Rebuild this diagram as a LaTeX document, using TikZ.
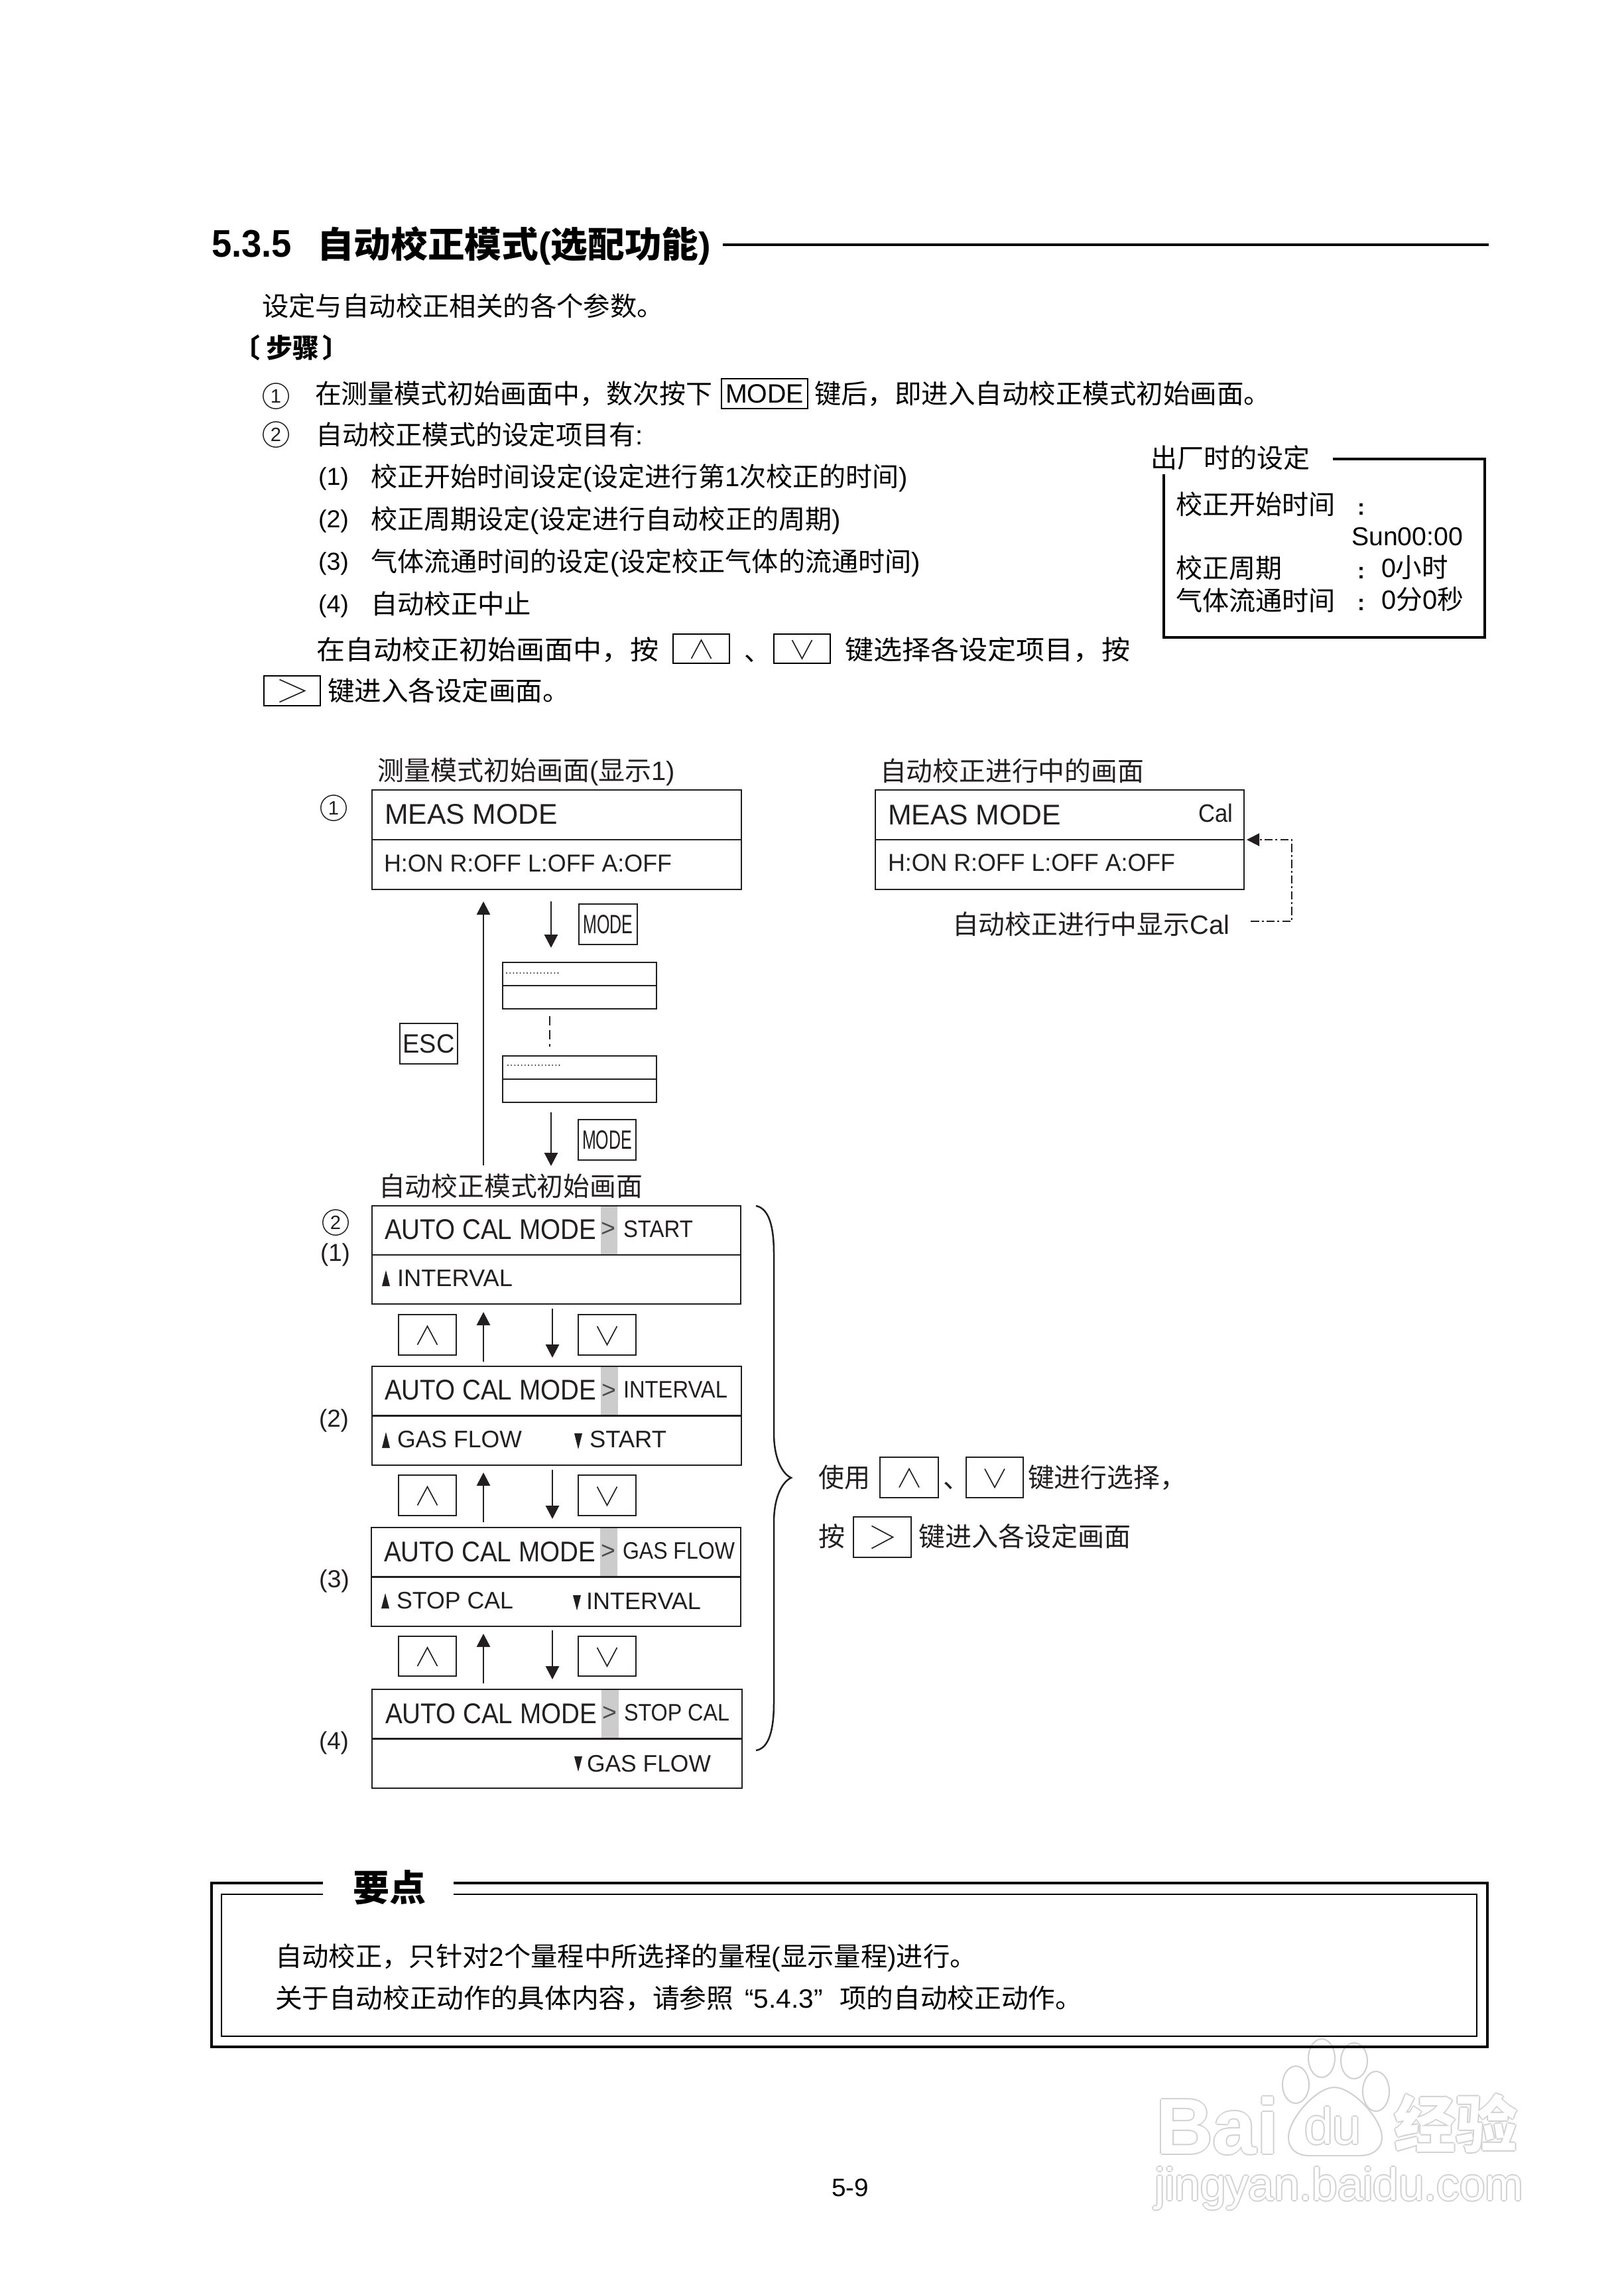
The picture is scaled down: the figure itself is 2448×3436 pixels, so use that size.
\documentclass[tikz,border=0pt]{standalone}
\usepackage{fontspec}
\usepackage{graphicx}
\setmainfont{Liberation Sans}
\newfontfamily\cjk{Noto Sans CJK SC}
\usetikzlibrary{arrows.meta}
\definecolor{ink}{HTML}{231F20}
\definecolor{band}{HTML}{CCCCCC}
\definecolor{wmg}{gray}{0.82}
\newcommand\cn[1]{{\cjk #1}}
\newdimen\tmpw
\newcommand\fpx[1]{\pgfmathsetmacro\fsz{#1*0.24}\fontsize{\fsz pt}{\fsz pt}\selectfont}
\newcommand\FT[3]{\fpx{#1}\tmpw=#2pt\relax\tmpw=0.24\tmpw\relax\resizebox{\tmpw}{\height}{#3}}
\newcommand\TL[7][txt]{\node[#1] (#2) at (#3,#4) {\FT{#5}{#6}{#7}};}
\newcommand\BX[6][lcd]{%
  \pgfmathsetmacro\bw{(#5-#3)*0.24}\pgfmathsetmacro\bh{(#6-#4)*0.24}%
  \pgfmathsetmacro\bx{(#3+#5)/2}\pgfmathsetmacro\by{(#4+#6)/2}%
  \node[#1,minimum width=\bw pt,minimum height=\bh pt] (#2) at (\bx,\by) }
% outlined watermark text: four pale copies and a white one on top
\newcommand\WMT[7][]{%
  \node[wmt,#1,text=wmg] (#2w) at (#3-2,#4) {\fpx{#5}#6};
  \node[wmt,#1,text=wmg] (#2e) at (#3+2,#4) {\fpx{#5}#6};
  \node[wmt,#1,text=wmg] (#2n) at (#3,#4-2) {\fpx{#5}#6};
  \node[wmt,#1,text=wmg] (#2s) at (#3,#4+2) {\fpx{#5}#6};
  \node[wmt,#1,text=white] (#2) at (#3,#4) {\fpx{#5}#6};}
\tikzset{
  x=0.24pt,y=-0.24pt,
  txt/.style={anchor=base west,inner sep=0pt,outer sep=0pt,text=black},
  wmt/.style={anchor=base west,inner sep=0pt,outer sep=0pt},
  dtxt/.style={txt,text=ink},
  lcd/.style={draw=ink,line width=.55pt,inner sep=0pt,outer sep=0pt},
  key/.style={draw=ink,line width=.65pt,inner sep=0pt,outer sep=0pt,text=ink},
  keyk/.style={draw=black,line width=.55pt,inner sep=0pt,outer sep=0pt,text=black},
  cnum/.style={circle,draw=ink,line width=.35pt,inner sep=0pt,outer sep=0pt,minimum size=9.2pt,text=ink,font=\fontsize{7pt}{7pt}\selectfont},
  arr/.style={draw=ink,line width=.7pt,-{Triangle[length=4.8pt,width=4.8pt]}},
  chev/.style={draw=ink,line width=.4pt},
  sep/.style={draw=ink,line width=.5pt},
  gt/.style={anchor=center,inner sep=0pt,outer sep=0pt,text=ink!80,font=\fontsize{9pt}{9pt}\selectfont},
  wmline/.style={draw=wmg,line width=.5pt},
}
\newcommand\UpC[1]{\draw[chev] (#1.center) ++(-15,15) -- ++(15,-28) -- ++(15,28);}
\newcommand\DnC[1]{\draw[chev] (#1.center) ++(-15,-13) -- ++(15,28) -- ++(15,-28);}
\newcommand\GtC[1]{\draw[chev] (#1.center) ++(-16,-17) -- ++(32,17) -- ++(-32,17);}
\begin{document}
\begin{tikzpicture}
\useasboundingbox[fill=white] (0,0) rectangle (2448,3436);
% watermark paw (under the frame)
\draw[wmline] (1993,3103) ellipse [x radius=20,y radius=29];
\draw[wmline] (2042,3107) ellipse [x radius=20,y radius=27];
\draw[wmline] (1954,3143) ellipse [x radius=20,y radius=28];
\draw[wmline] (2075,3153) ellipse [x radius=20,y radius=30];
\draw[wmline] (2012,3147) .. controls (2040,3147) and (2084,3195) .. (2084,3222)
  .. controls (2084,3240) and (2070,3250) .. (2050,3250) -- (1975,3250)
  .. controls (1955,3250) and (1943,3240) .. (1943,3222)
  .. controls (1943,3195) and (1985,3147) .. (2012,3147) -- cycle;
% heading
\TL[txt,font=\bfseries]{h1}{319}{387}{58}{121}{5.3.5}
\TL[txt,font=\bfseries]{h2}{478}{388}{54}{594}{\cn{自动校正模式}(\cn{选配功能})}
\coordinate (hrA) at (1090,369); \coordinate (hrB) at (2245,369);
\draw[black,line width=.85pt] (hrA) -- (hrB);
% intro
\TL{t1}{395}{476}{40}{606}{\cn{设定与自动校正相关的各个参数。}}
\TL[txt,font=\bfseries]{t2}{352}{539}{40}{175}{\cn{〔}\kern2.4pt\cn{步骤}\kern1.2pt\cn{〕}}
\node[cnum] (n1) at (416,597) {1};
\TL{t3}{475}{608}{40}{599}{\cn{在测量模式初始画面中，数次按下}}
\BX[keyk]{kmode}{1088}{571}{1218}{616} {\FT{40}{118}{MODE}};
\TL{t4}{1228}{608}{40}{688}{\cn{键后，即进入自动校正模式初始画面。}}
\node[cnum] (n2) at (416,655) {2};
\TL{t5}{476}{670}{40}{494}{\cn{自动校正模式的设定项目有}:}
\TL{l1}{480}{731}{37}{46}{(1)}
\TL{l1t}{559}{733}{40}{810}{\cn{校正开始时间设定}(\cn{设定进行第}1\cn{次校正的时间})}
\TL{l2}{480}{795}{37}{46}{(2)}
\TL{l2t}{559}{797}{40}{709}{\cn{校正周期设定}(\cn{设定进行自动校正的周期})}
\TL{l3}{480}{859}{37}{46}{(3)}
\TL{l3t}{559}{861}{40}{829}{\cn{气体流通时间的设定}(\cn{设定校正气体的流通时间})}
\TL{l4}{480}{923}{37}{46}{(4)}
\TL{l4t}{559}{925}{40}{242}{\cn{自动校正中止}}
\TL{t6}{477}{994}{40}{517}{\cn{在自动校正初始画面中，按}}
\BX[keyk]{kup0}{1015}{956}{1100}{1000} {};
\UpC{kup0}
\TL{t7}{1122}{996}{40}{40}{\cn{、}}
\BX[keyk]{kdn0}{1167}{956}{1252}{1000} {};
\DnC{kdn0}
\TL{t8}{1274}{994}{40}{431}{\cn{键选择各设定项目，按}}
\BX[keyk]{kgt0}{398}{1019}{483}{1064} {};
\draw[chev] (kgt0.center) ++(-19,-17) -- ++(38,17) -- ++(-38,17);
\TL{t9}{494}{1056}{40}{365}{\cn{键进入各设定画面。}}
% factory settings panel
\TL{f0}{1735}{705}{40}{240}{\cn{出厂时的设定}}
\coordinate (fa) at (2010,692); \coordinate (fb) at (2239,692);
\coordinate (fc) at (2239,961); \coordinate (fd) at (1755,961); \coordinate (fe) at (1755,715);
\draw[black,line width=.8pt] (fa) -- (fb) -- (fc) -- (fd) -- (fe);
\TL{f1}{1773}{775}{40}{241}{\cn{校正开始时间}}
\TL[txt,font=\bfseries]{f1c}{2047}{776}{34}{11}{:}
\TL{f1v}{2038}{822}{39}{168}{Sun00:00}
\TL{f2}{1773}{871}{40}{160}{\cn{校正周期}}
\TL[txt,font=\bfseries]{f2c}{2047}{872}{34}{11}{:}
\TL{f2v}{2083}{870}{40}{101}{0\cn{小时}}
\TL{f3}{1773}{920}{40}{241}{\cn{气体流通时间}}
\TL[txt,font=\bfseries]{f3c}{2047}{920}{34}{11}{:}
\TL{f3v}{2083}{918}{40}{124}{0\cn{分}0\cn{秒}}
% measure screen
\TL[dtxt]{m0}{569}{1176}{40}{449}{\cn{测量模式初始画面}(\cn{显示}1)}
\node[cnum] (c1) at (503,1218) {1};
\BX{meas}{561}{1191}{1118}{1341} {};
\draw[sep] (meas.west) -- (meas.east);
\TL[dtxt]{measA}{580}{1242}{43}{261}{MEAS MODE}
\TL[dtxt]{measB}{579}{1314}{37}{434}{H:ON R:OFF L:OFF A:OFF}
% running screen
\TL[dtxt]{r0}{1327}{1177}{40}{398}{\cn{自动校正进行中的画面}}
\BX{run}{1320}{1191}{1876}{1341} {};
\draw[sep] (run.west) -- (run.east);
\TL[dtxt]{runA}{1339}{1243}{43}{261}{MEAS MODE}
\TL[dtxt]{runC}{1807}{1239}{38}{52}{Cal}
\TL[dtxt]{runB}{1339}{1313}{37}{433}{H:ON R:OFF L:OFF A:OFF}
\TL[dtxt]{runL}{1436}{1408}{40}{418}{\cn{自动校正进行中显示}Cal}
\coordinate (ca) at (1886,1389); \coordinate (cb) at (1948,1389); \coordinate (cc) at (1948,1266); \coordinate (cd) at (1880,1266);
\draw[draw=ink,line width=.5pt,dash pattern=on 3pt off 1pt on .7pt off 1pt,-{Triangle[length=4.6pt,width=4.6pt]}] (ca) -- (cb) -- (cc) -- (cd);
% transition from measure to auto cal
\coordinate (esc1) at (729,1757); \coordinate (esc2) at (729,1359);
\draw[arr] (esc1) -- (esc2);
\BX[key]{kesc}{603}{1543}{690}{1604} {\FT{40}{78}{ESC}};
\coordinate (md1a) at (831,1359); \coordinate (md1b) at (831,1429);
\draw[arr] (md1a) -- (md1b);
\BX[key]{kmd1}{873}{1363}{961}{1424} {\FT{40}{75}{MODE}};
\BX{sm1}{758}{1451}{990}{1521} {};
\draw[sep] (sm1.west) -- (sm1.east);
\coordinate (d1a) at (764,1467); \coordinate (d1b) at (842,1467);
\draw[ink,line width=.5pt,line cap=round,dash pattern=on 0pt off 1.24pt] (d1a) -- (d1b);
\coordinate (dv1) at (829,1532); \coordinate (dv2) at (829,1578);
\draw[ink,line width=.6pt,dash pattern=on 3.4pt off 1.6pt] (dv1) -- (dv2);
\BX{sm2}{758}{1592}{990}{1662} {};
\draw[sep] (sm2.west) -- (sm2.east);
\coordinate (d2a) at (766,1606); \coordinate (d2b) at (844,1606);
\draw[ink,line width=.5pt,line cap=round,dash pattern=on 0pt off 1.24pt] (d2a) -- (d2b);
\coordinate (md2a) at (831,1677); \coordinate (md2b) at (831,1758);
\draw[arr] (md2a) -- (md2b);
\BX[key]{kmd2}{872}{1688}{959}{1749} {\FT{40}{75}{MODE}};
\TL[dtxt]{a0}{571}{1803}{40}{398}{\cn{自动校正模式初始画面}}
% auto cal screens
\node[cnum] (c2) at (506,1843) {2};
\TL[dtxt]{a1n}{483}{1901}{37}{45}{(1)}
\TL[dtxt]{a2n}{481}{2151}{37}{45}{(2)}
\TL[dtxt]{a3n}{481}{2393}{37}{46}{(3)}
\TL[dtxt]{a4n}{481}{2637}{37}{45}{(4)}
% screen 1
\fill[band] (906,1818) rectangle (931,1892);
\BX{s1}{561}{1818}{1117}{1966} {};
\draw[sep] (s1.west) -- (s1.east);
\TL[dtxt]{s1a}{580}{1868}{43}{319}{AUTO CAL MODE}
\node[gt] (s1g) at (917,1854) {>};
\TL[dtxt]{s1b}{940}{1865}{36}{105}{START}
\fill[ink] (576,1939) -- (582,1915) -- (588,1939) -- cycle;
\TL[dtxt]{s1c}{599}{1939}{36}{174}{INTERVAL}
% screen 2
\fill[band] (906,2060) rectangle (932,2134);
\BX{s2}{561}{2060}{1118}{2209} {};
\draw[sep] (s2.west) -- (s2.east);
\TL[dtxt]{s2a}{580}{2110}{43}{319}{AUTO CAL MODE}
\node[gt] (s2g) at (918,2098) {>};
\TL[dtxt]{s2b}{940}{2107}{36}{157}{INTERVAL}
\fill[ink] (576,2183) -- (582,2159) -- (588,2183) -- cycle;
\TL[dtxt]{s2c}{599}{2182}{36}{188}{GAS FLOW}
\fill[ink] (866,2161) -- (872,2185) -- (878,2161) -- cycle;
\TL[dtxt]{s2d}{889}{2182}{36}{116}{START}
% screen 3
\fill[band] (905,2303) rectangle (931,2378);
\BX{s3}{560}{2303}{1117}{2452} {};
\draw[sep] (s3.west) -- (s3.east);
\TL[dtxt]{s3a}{579}{2354}{43}{319}{AUTO CAL MODE}
\node[gt] (s3g) at (917,2340) {>};
\TL[dtxt]{s3b}{939}{2350}{36}{169}{GAS FLOW}
\fill[ink] (575,2425) -- (581,2402) -- (587,2425) -- cycle;
\TL[dtxt]{s3c}{598}{2425}{36}{176}{STOP CAL}
\fill[ink] (864,2405) -- (870,2428) -- (876,2405) -- cycle;
\TL[dtxt]{s3d}{884}{2426}{36}{173}{INTERVAL}
% screen 4
\fill[band] (907,2547) rectangle (933,2622);
\BX{s4}{561}{2547}{1119}{2696} {};
\draw[sep] (s4.west) -- (s4.east);
\TL[dtxt]{s4a}{581}{2598}{43}{319}{AUTO CAL MODE}
\node[gt] (s4g) at (919,2584) {>};
\TL[dtxt]{s4b}{941}{2594}{36}{159}{STOP CAL}
\fill[ink] (866,2648) -- (872,2671) -- (878,2648) -- cycle;
\TL[dtxt]{s4c}{885}{2671}{36}{187}{GAS FLOW}
% arrows and keys between screens
\coordinate (u1a) at (729,2053); \coordinate (u1b) at (729,1978);
\coordinate (v1a) at (833,1973); \coordinate (v1b) at (833,2047);
\draw[arr] (u1a) -- (u1b); \draw[arr] (v1a) -- (v1b);
\BX[key]{ku1}{601}{1982}{688}{2043} {}; \UpC{ku1}
\BX[key]{kd1}{872}{1982}{959}{2043} {}; \DnC{kd1}
\coordinate (u2a) at (729,2295); \coordinate (u2b) at (729,2220);
\coordinate (v2a) at (833,2216); \coordinate (v2b) at (833,2290);
\draw[arr] (u2a) -- (u2b); \draw[arr] (v2a) -- (v2b);
\BX[key]{ku2}{601}{2224}{688}{2285} {}; \UpC{ku2}
\BX[key]{kd2}{872}{2224}{959}{2285} {}; \DnC{kd2}
\coordinate (u3a) at (729,2538); \coordinate (u3b) at (729,2463);
\coordinate (v3a) at (833,2458); \coordinate (v3b) at (833,2532);
\draw[arr] (u3a) -- (u3b); \draw[arr] (v3a) -- (v3b);
\BX[key]{ku3}{601}{2467}{688}{2527} {}; \UpC{ku3}
\BX[key]{kd3}{872}{2467}{959}{2527} {}; \DnC{kd3}
% brace
\draw[ink,line width=.6pt] (1140,1818) .. controls (1160,1822) and (1167,1850) .. (1167,1890) -- (1167,2160)
  .. controls (1167,2200) and (1180,2222) .. (1193,2228)
  .. controls (1180,2234) and (1167,2256) .. (1167,2296) -- (1167,2567)
  .. controls (1167,2607) and (1160,2636) .. (1140,2639);
% side note
\TL[dtxt]{b1}{1234}{2242}{40}{78}{\cn{使用}}
\BX[key]{bku}{1327}{2197}{1415}{2258} {}; \UpC{bku}
\TL[dtxt]{b2}{1422}{2243}{40}{40}{\cn{、}}
\BX[key]{bkd}{1457}{2197}{1543}{2258} {}; \DnC{bkd}
\TL[dtxt]{b3}{1550}{2242}{40}{239}{\cn{键进行选择，}}
\TL[dtxt]{b4}{1234}{2331}{40}{40}{\cn{按}}
\BX[key]{bkg}{1287}{2287}{1374}{2348} {}; \GtC{bkg}
\TL[dtxt]{b5}{1385}{2331}{40}{320}{\cn{键进入各设定画面}}
% key points frame
\coordinate (oa) at (487,2839); \coordinate (ob) at (319,2839); \coordinate (oc) at (319,3086);
\coordinate (od) at (2243,3086); \coordinate (oe) at (2243,2839); \coordinate (of) at (684,2839);
\draw[black,line width=1.1pt] (oa) -- (ob) -- (oc) -- (od) -- (oe) -- (of);
\coordinate (ia) at (487,2856); \coordinate (ib) at (334,2856); \coordinate (ic) at (334,3070);
\coordinate (id) at (2227,3070); \coordinate (ie) at (2227,2856); \coordinate (if) at (684,2856);
\draw[black,line width=.6pt] (ia) -- (ib) -- (ic) -- (id) -- (ie) -- (if);
\TL[txt,font=\bfseries]{kp}{532}{2866}{55}{110}{\cn{要点}}
\TL{k1}{415}{2964}{40}{1058}{\cn{自动校正，只针对}2\cn{个量程中所选择的量程}(\cn{显示量程})\cn{进行。}}
\TL{k2}{415}{3027}{40}{1217}{\cn{关于自动校正动作的具体内容，请参照}\kern4pt“5.4.3”\kern6pt\cn{项的自动校正动作。}}
\TL{pg}{1254}{3311}{38}{56}{5-9}
% watermark text
\WMT[font=\bfseries]{wb}{1743}{3247}{119}{Bai}{}
\WMT{wd}{1967}{3232}{77}{du}{}
\WMT[font=\bfseries]{wj}{2102}{3237}{93}{\cn{经验}}{}
\WMT{wu}{1741}{3317}{69}{jingyan.baidu.com}{}
\end{tikzpicture}
\end{document}
